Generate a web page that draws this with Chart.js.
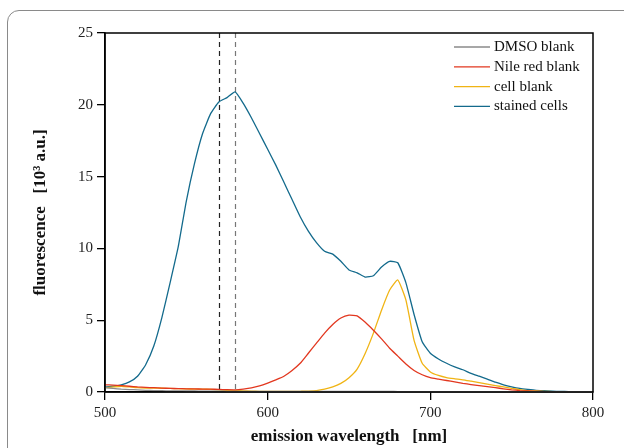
<!DOCTYPE html>
<html>
<head>
<meta charset="utf-8">
<script src="https://cdn.jsdelivr.net/npm/chart.js@4.4.1/dist/chart.umd.min.js"></script>
<style>
  html, body { margin: 0; padding: 0; background: #fff; }
  #wrap { position: relative; width: 624px; height: 448px; overflow: hidden; }
  #card { position: absolute; left: 7px; top: 10px; width: 630px; height: 470px;
          border: 1.5px solid #8a8a8a; border-radius: 12px; box-sizing: border-box; }
  #chart { position: absolute; left: 0; top: 0; }
</style>
</head>
<body>
<div id="wrap">
  <div id="card"></div>
  <canvas id="chart" width="624" height="448"></canvas>
</div>
<script>
// emission wavelength [nm], 5 nm steps
const wavelengths = [];
for (let w = 500; w <= 800; w += 5) wavelengths.push(w);

const seriesLabels = ['DMSO blank', 'Nile red blank', 'cell blank', 'stained cells'];
const seriesColors = ['#8a8a8a', '#e2371f', '#f0b414', '#136a8c'];

// fluorescence [10^3 a.u.]
const dmsoBlank = [
  0.30, 0.25, 0.20, 0.17, 0.15, 0.12, 0.10, 0.09, 0.08, 0.08,
  0.07, 0.07, 0.06, 0.06, 0.06, 0.05, 0.05, 0.05, 0.05, 0.05,
  0.05, 0.05, 0.05, 0.04, 0.04, 0.04, 0.04, 0.04, 0.04, 0.04,
  0.04, 0.04, 0.04, 0.04, 0.04, 0.04, 0.03, 0.03, 0.03, 0.03,
  0.03, 0.03, 0.03, 0.03, 0.03, 0.03, 0.03, 0.02, 0.02, 0.02,
  0.02, 0.02, 0.02, 0.02, 0.02, 0.02, 0.02, 0.02, 0.02, 0.02, 0.02
];
const nileRedBlank = [
  0.50, 0.48, 0.45, 0.40, 0.35, 0.32, 0.30, 0.27, 0.25, 0.24,
  0.22, 0.22, 0.20, 0.20, 0.18, 0.16, 0.15, 0.20, 0.28, 0.42,
  0.62, 0.85, 1.10, 1.50, 2.00, 2.70, 3.40, 4.10, 4.70, 5.15,
  5.35, 5.30, 4.85, 4.30, 3.70, 3.05, 2.50, 1.95, 1.50, 1.20,
  1.00, 0.90, 0.80, 0.70, 0.60, 0.52, 0.45, 0.37, 0.30, 0.22,
  0.15, 0.10, 0.07, 0.05, 0.03, 0.02, 0.02, 0.02, 0.02, 0.02, 0.02
];
const cellBlank = [
  0.30, 0.35, 0.40, 0.35, 0.30, 0.28, 0.27, 0.26, 0.25, 0.23,
  0.22, 0.20, 0.20, 0.18, 0.15, 0.12, 0.10, 0.08, 0.06, 0.05,
  0.05, 0.04, 0.04, 0.04, 0.05, 0.06, 0.10, 0.20, 0.35, 0.60,
  1.00, 1.60, 2.70, 4.10, 5.70, 7.10, 7.80, 6.40, 3.60, 2.00,
  1.40, 1.15, 1.00, 0.92, 0.85, 0.75, 0.65, 0.55, 0.45, 0.35,
  0.25, 0.17, 0.10, 0.07, 0.05, 0.03, 0.02, 0.02, 0.02, 0.02, 0.02
];
const stainedCells = [
  0.35, 0.40, 0.50, 0.70, 1.10, 1.90, 3.20, 5.20, 7.60, 10.1,
  13.3, 15.9, 18.0, 19.4, 20.2, 20.5, 20.9, 20.1, 19.1, 18.0,
  16.9, 15.8, 14.6, 13.4, 12.2, 11.2, 10.4, 9.80, 9.60, 9.10,
  8.50, 8.30, 8.00, 8.10, 8.70, 9.10, 9.00, 7.60, 5.40, 3.50,
  2.70, 2.30, 2.00, 1.75, 1.55, 1.30, 1.10, 0.90, 0.68, 0.50,
  0.36, 0.25, 0.18, 0.12, 0.09, 0.06, 0.04, 0.03, 0.02, 0.02, 0.02
];
const markers = [570, 580];
const markerColors = ['#222', '#777'];
const xTicks = [500, 600, 700, 800];
const yTicks = [0, 5, 10, 15, 20, 25];

const serif = "'Liberation Serif', 'Times New Roman', Times, serif";

function pairs(values) {
  return wavelengths.map((w, i) => ({ x: w, y: values[i] }));
}

const allSeries = [dmsoBlank, nileRedBlank, cellBlank, stainedCells];

// frame, dashed markers and legend
const extras = {
  id: 'extras',
  beforeDatasetsDraw(chart) {
    const { ctx, chartArea, scales } = chart;
    ctx.save();
    ctx.lineWidth = 1.2;
    ctx.setLineDash([5, 4]);
    markers.forEach((m, i) => {
      const px = Math.round(scales.x.getPixelForValue(m)) + 0.5;
      ctx.strokeStyle = markerColors[i];
      ctx.beginPath();
      ctx.moveTo(px, chartArea.top);
      ctx.lineTo(px, chartArea.bottom);
      ctx.stroke();
    });
    ctx.restore();
  },
  afterDraw(chart) {
    const { ctx, chartArea } = chart;
    ctx.save();
    ctx.strokeStyle = '#000';
    ctx.lineWidth = 1.5;
    ctx.strokeRect(chartArea.left, chartArea.top, chartArea.right - chartArea.left, chartArea.bottom - chartArea.top);

    ctx.font = '15px ' + serif;
    ctx.textBaseline = 'middle';
    ctx.fillStyle = '#111';
    chart.data.datasets.forEach((ds, i) => {
      const y = chartArea.top + 14 + i * 19.8;
      ctx.strokeStyle = ds.borderColor;
      ctx.lineWidth = 1.3;
      ctx.beginPath();
      ctx.moveTo(454, y);
      ctx.lineTo(490, y);
      ctx.stroke();
      ctx.fillText(ds.label, 494, y);
    });
    ctx.restore();
  }
};

new Chart(document.getElementById('chart'), {
  type: 'line',
  data: {
    datasets: allSeries.map((s, i) => ({
      label: seriesLabels[i],
      data: pairs(s),
      borderColor: seriesColors[i],
      borderWidth: 1.3,
      pointRadius: 0,
      tension: 0.15,
      fill: false
    }))
  },
  options: {
    responsive: false,
    animation: false,
    layout: { padding: { top: 33, right: 31, left: 0, bottom: 0 } },
    plugins: { legend: { display: false }, tooltip: { enabled: false } },
    scales: {
      x: {
        type: 'linear',
        min: 500, max: 800,
        afterBuildTicks: s => { s.ticks = xTicks.map(v => ({ value: v })); },
        afterFit: s => { s.height = 56; },
        ticks: { font: { family: serif, size: 15 }, color: '#222', padding: 4 },
        grid: { drawOnChartArea: false, tickLength: 8, color: '#000', lineWidth: 1.3 },
        border: { color: '#000', width: 1.5 },
        title: {
          display: true, text: 'emission wavelength   [nm]', color: '#111',
          font: { family: serif, size: 17, weight: 'bold' }, padding: { top: 0, bottom: 1 }
        }
      },
      y: {
        min: 0, max: 25,
        afterBuildTicks: s => { s.ticks = yTicks.map(v => ({ value: v })); },
        afterFit: s => { s.width = 105; },
        ticks: { font: { family: serif, size: 15 }, color: '#222', padding: 4 },
        grid: { drawOnChartArea: false, tickLength: 8, color: '#000', lineWidth: 1.3 },
        border: { color: '#000', width: 1.5 },
        title: {
          display: true, text: 'fluorescence   [10³ a.u.]', color: '#111',
          font: { family: serif, size: 17, weight: 'bold' }, padding: { top: 30, bottom: 0 }
        }
      }
    }
  },
  plugins: [extras]
});
</script>
</body>
</html>
